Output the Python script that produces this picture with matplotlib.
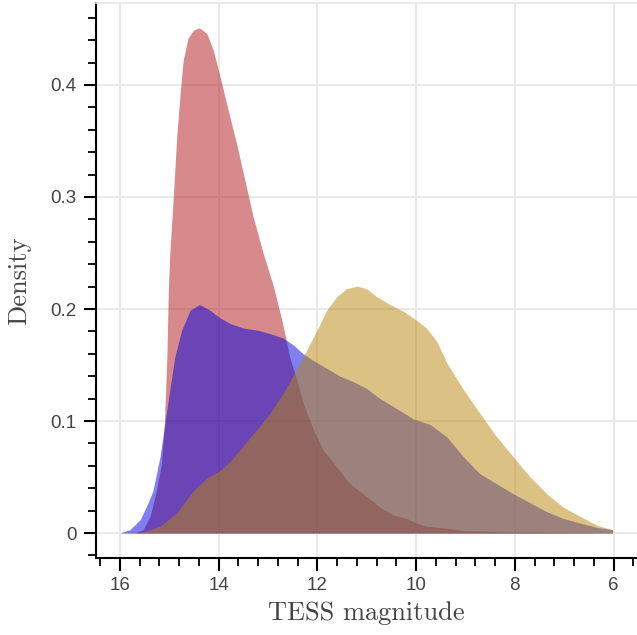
import matplotlib.pyplot as plt
from matplotlib.ticker import MultipleLocator, FuncFormatter

# density curves (TESS magnitude, density)
red_mag = [15.7, 15.53, 15.39, 15.26, 15.16, 15.10, 15.05, 15.02, 14.99, 14.92, 14.85,
           14.78, 14.72, 14.62, 14.51, 14.39, 14.24, 14.11, 13.97, 13.81, 13.64, 13.47,
           13.30, 13.10, 12.89, 12.72, 12.56, 12.42, 12.29, 12.08, 11.88, 11.61, 11.34,
           11.07, 10.73, 10.46, 10.19, 9.99, 9.79, 9.5, 9.31, 9.04, 8.5, 8.03, 7.0, 6.0]
red_den = [0.0, 0.003, 0.015, 0.038, 0.062, 0.098, 0.157, 0.217, 0.250, 0.300, 0.354,
           0.393, 0.422, 0.442, 0.449, 0.451, 0.446, 0.431, 0.407, 0.378, 0.348, 0.315,
           0.282, 0.250, 0.220, 0.190, 0.157, 0.137, 0.116, 0.092, 0.074, 0.059, 0.044,
           0.035, 0.023, 0.016, 0.013, 0.009, 0.006, 0.005, 0.004, 0.002, 0.0015, 0.001,
           0.0005, 0.0]

blue_mag = [16.0, 15.80, 15.59, 15.43, 15.33, 15.19, 15.09, 14.99, 14.89, 14.75, 14.58,
            14.39, 14.18, 13.97, 13.77, 13.5, 13.2, 12.96, 12.69, 12.49, 12.29, 12.08,
            11.81, 11.54, 11.27, 11.0, 10.73, 10.39, 10.06, 9.72, 9.38, 9.04, 8.71,
            8.37, 8.03, 7.69, 7.35, 7.02, 6.68, 6.34, 6.02]
blue_den = [0.0, 0.003, 0.012, 0.027, 0.038, 0.068, 0.098, 0.128, 0.157, 0.181, 0.199,
            0.204, 0.199, 0.192, 0.187, 0.183, 0.181, 0.178, 0.174, 0.168, 0.160, 0.154,
            0.147, 0.140, 0.135, 0.129, 0.120, 0.111, 0.102, 0.097, 0.086, 0.068, 0.053,
            0.044, 0.035, 0.027, 0.019, 0.013, 0.009, 0.005, 0.003]

gold_mag = [15.9, 15.53, 15.19, 14.85, 14.51, 14.24, 13.97, 13.77, 13.5, 13.2, 12.96,
            12.69, 12.42, 12.22, 12.01, 11.81, 11.61, 11.41, 11.20, 11.0, 10.80, 10.53,
            10.26, 9.99, 9.79, 9.58, 9.38, 9.04, 8.71, 8.37, 8.03, 7.69, 7.35, 7.02,
            6.68, 6.34, 6.02]
gold_den = [0.0, 0.001, 0.006, 0.018, 0.038, 0.049, 0.056, 0.064, 0.078, 0.094, 0.107,
            0.125, 0.146, 0.163, 0.181, 0.199, 0.211, 0.218, 0.2205, 0.218, 0.211, 0.204,
            0.198, 0.190, 0.183, 0.171, 0.152, 0.128, 0.107, 0.086, 0.068, 0.050, 0.035,
            0.023, 0.015, 0.007, 0.003]

fig = plt.figure(figsize=(6.37, 6.35), dpi=100)
ax = fig.add_axes([96 / 637, 77 / 635, 541 / 637, 555 / 635])

ax.fill_between(red_mag, red_den, 0, color='#b0151a', alpha=0.5, lw=0, zorder=2)
ax.fill_between(blue_mag, blue_den, 0, color='#0000e1', alpha=0.5, lw=0, zorder=3)
ax.fill_between(gold_mag, gold_den, 0, color='#b8860b', alpha=0.5, lw=0, zorder=4)

ax.set_xlim(16.486, 5.524)
ax.set_ylim(-0.0223, 0.4732)

ax.xaxis.set_major_locator(MultipleLocator(2))
ax.xaxis.set_minor_locator(MultipleLocator(0.4))
ax.yaxis.set_major_locator(MultipleLocator(0.1))
ax.yaxis.set_minor_locator(MultipleLocator(0.02))
ax.yaxis.set_major_formatter(FuncFormatter(lambda v, p: '0' if abs(v) < 1e-9 else '%g' % round(v, 2)))
ax.xaxis.set_major_formatter(FuncFormatter(lambda v, p: '%d' % round(v)))

ax.grid(True, which='major', color='#e5e5e5', lw=1.2, zorder=0)
ax.set_axisbelow(True)

ax.spines['right'].set_visible(False)
ax.spines['top'].set_color('#e5e5e5')
ax.spines['top'].set_linewidth(1.2)
for s in ['left', 'bottom']:
    ax.spines[s].set_linewidth(1.5)
    ax.spines[s].set_color('black')

ax.tick_params(which='major', direction='out', length=9, width=1.5, colors='black',
               labelcolor='#444444', labelsize=13.5, pad=5, labelfontfamily='Liberation Sans')
ax.tick_params(which='minor', direction='out', length=6, width=1.3, colors='black')
ax.tick_params(axis='x', which='both', top=False)

ax.set_xlabel('TESS magnitude', fontfamily='cmr10', fontsize=19, color='#444444', labelpad=5)
ax.set_ylabel('Density', fontfamily='cmr10', fontsize=19, color='#444444', labelpad=14)

fig.savefig('out.png', dpi=100)
